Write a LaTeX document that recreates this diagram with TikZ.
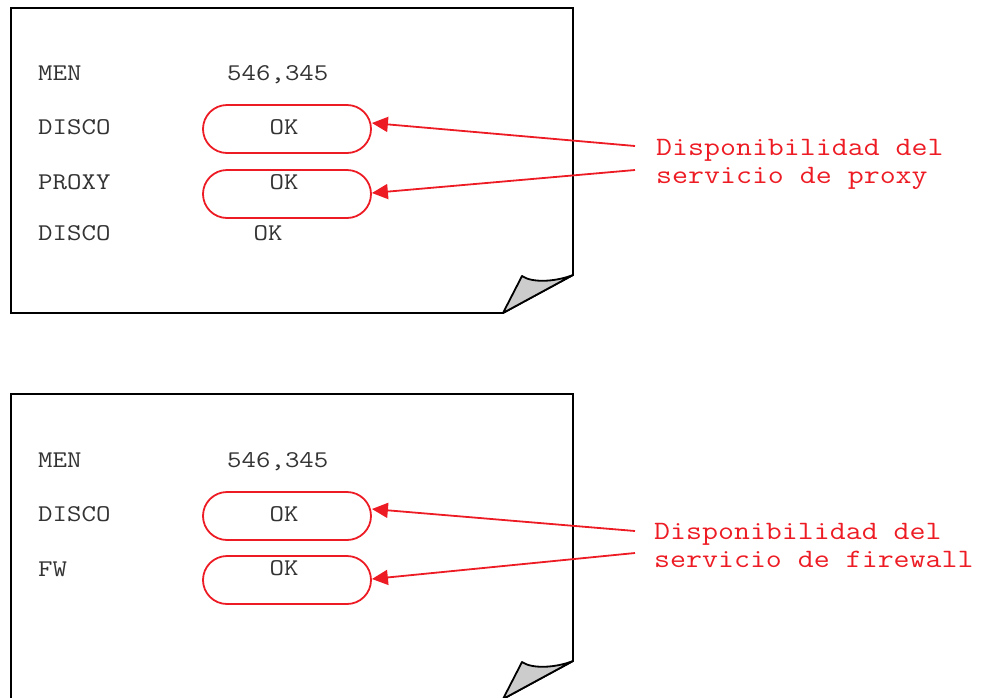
\documentclass[tikz,border=0pt]{standalone}
\usepackage{fontspec}
\newfontfamily\mono{Latin Modern Mono}[FakeStretch=1.17]
\usetikzlibrary{arrows.meta}
\definecolor{ink}{HTML}{333333}
\definecolor{alert}{HTML}{ED1C24}
\definecolor{curl}{HTML}{CCCCCC}
\tikzset{
  page/.style={draw=black, line width=1.8pt, line join=miter},
  fold/.style={draw=black, line width=1.8pt, fill=curl, line join=round},
  field/.style={anchor=base west, inner sep=0pt, text=ink, font=\mono\fontsize{24}{28}\selectfont},
  value/.style={anchor=base, inner sep=0pt, text=ink, font=\mono\fontsize{24}{28}\selectfont},
  pill/.style={draw=alert, line width=1.8pt, rounded corners=24pt, minimum width=168pt, minimum height=48pt, inner sep=0pt},
  note/.style={anchor=base west, inner sep=0pt, text=alert, font=\mono\fontsize{26.5}{28}\selectfont},
  pointer/.style={draw=alert, line width=1.8pt, -{Triangle[length=16pt,width=15pt]}, fill=alert}
}
\begin{document}
\begin{tikzpicture}[x=1pt, y=-1pt]
\useasboundingbox (0,0) rectangle (983,697);
\clip (0,0) rectangle (983,697);

% ---- upper report sheet ----
\draw[page] (11,8) -- (573,8) -- (573,275) -- (503,313) -- (11,313) -- cycle;
\draw[fold] (503,313) -- (522,276) .. controls (532,283) and (555,282) .. (573,275) -- cycle;

\node[field] (aMen) at (38,80) {MEN};
\node[field] (aDisco) at (38,134) {DISCO};
\node[field] (aProxy) at (38,189) {PROXY};
\node[field] (aDisco2) at (38,240) {DISCO};

\node[field] (aMenV) at (227,80) {546,345};
\node[pill] (aPill1) at (287,129) {};
\node[pill] (aPill2) at (287,194) {};
\node[value] (aOk1) at (284,134) {OK};
\node[value] (aOk2) at (284,189) {OK};
\node[value] (aOk3) at (268,240) {OK};

\node[note] (aNote1) at (656,155) {Disponibilidad del};
\node[note] (aNote2) at (656,183) {servicio de proxy};
\draw[pointer] ([shift={(-21pt,9pt)}]aNote1.base west) -- ([yshift=6pt]aPill1.east);
\draw[pointer] ([shift={(-21pt,13pt)}]aNote2.base west) -- ([yshift=1pt]aPill2.east);

% ---- lower report sheet ----
\draw[page] (11,394) -- (573,394) -- (573,661) -- (503,699) -- (11,699) -- cycle;
\draw[fold] (503,699) -- (522,662) .. controls (532,669) and (555,668) .. (573,661) -- cycle;

\node[field] (bMen) at (38,467) {MEN};
\node[field] (bDisco) at (38,521) {DISCO};
\node[field] (bFw) at (38,576) {FW};

\node[field] (bMenV) at (227,467) {546,345};
\node[pill] (bPill1) at (287,516) {};
\node[pill] (bPill2) at (287,580) {};
\node[value] (bOk1) at (284,521) {OK};
\node[value] (bOk2) at (284,575) {OK};

\node[note] (bNote1) at (654,539) {Disponibilidad del};
\node[note] (bNote2) at (654,567) {servicio de firewall};
\draw[pointer] ([shift={(-19pt,8pt)}]bNote1.base west) -- ([yshift=7pt]bPill1.east);
\draw[pointer] ([shift={(-19pt,14pt)}]bNote2.base west) -- ([yshift=1pt]bPill2.east);
\end{tikzpicture}
\end{document}
